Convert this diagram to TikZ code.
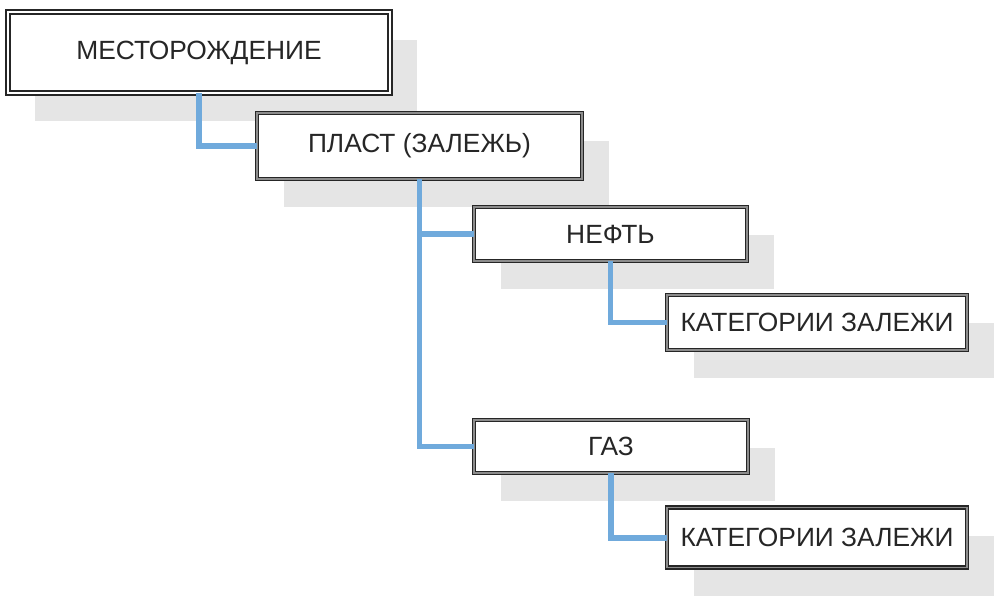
\documentclass[tikz,border=0pt]{standalone}
\usepackage{fontspec}
\setmainfont{Liberation Sans}
\usetikzlibrary{shadows}
\definecolor{linkblue}{RGB}{112,170,220}

\begin{document}
\begin{tikzpicture}[
  x=0.02cm, y=-0.02cm,
  every node/.style={
    fill=white,
    align=center,
    inner sep=0pt,
    outer sep=0pt,
    text=black!85,
    font=\fontsize{15}{18}\selectfont
  },
  level/.style={
    draw=black!85,
    double=black!45,
    line width=1pt,
    double distance=0.7pt,
    drop shadow={shadow xshift=0.54cm, shadow yshift=-0.56cm, fill=black!10, opacity=1}
  },
  toplevel/.style={level, double=white, line width=1.1pt, double distance=1pt},
  link/.style={draw=linkblue, line width=3.4pt}
]
  \useasboundingbox (0,0) rectangle (1000,596);

  \node[toplevel, minimum width=7.64cm, minimum height=1.62cm] (field) at (199,52.5) {МЕСТОРОЖДЕНИЕ};
  \node[level, minimum width=6.50cm, minimum height=1.32cm] (layer) at (419.5,146) {ПЛАСТ (ЗАЛЕЖЬ)};
  \node[level, minimum width=5.46cm, minimum height=1.08cm] (oil) at (610.5,234) {НЕФТЬ};
  \node[level, minimum width=6.00cm, minimum height=1.10cm] (oilcat) at (817,322.5) {КАТЕГОРИИ ЗАЛЕЖИ};
  \node[level, minimum width=5.48cm, minimum height=1.06cm] (gas) at (611,446.5) {ГАЗ};
  \node[level, minimum width=6.00cm, minimum height=1.20cm] (gascat) at (817,537.5) {КАТЕГОРИИ ЗАЛЕЖИ};

  \draw[link] (field.south) |- (layer.west);
  \draw[link] (layer.south) |- (oil.west);
  \draw[link] (layer.south) |- (gas.west);
  \draw[link] (oil.south) |- (oilcat.west);
  \draw[link] (gas.south) |- (gascat.west);
\end{tikzpicture}
\end{document}
